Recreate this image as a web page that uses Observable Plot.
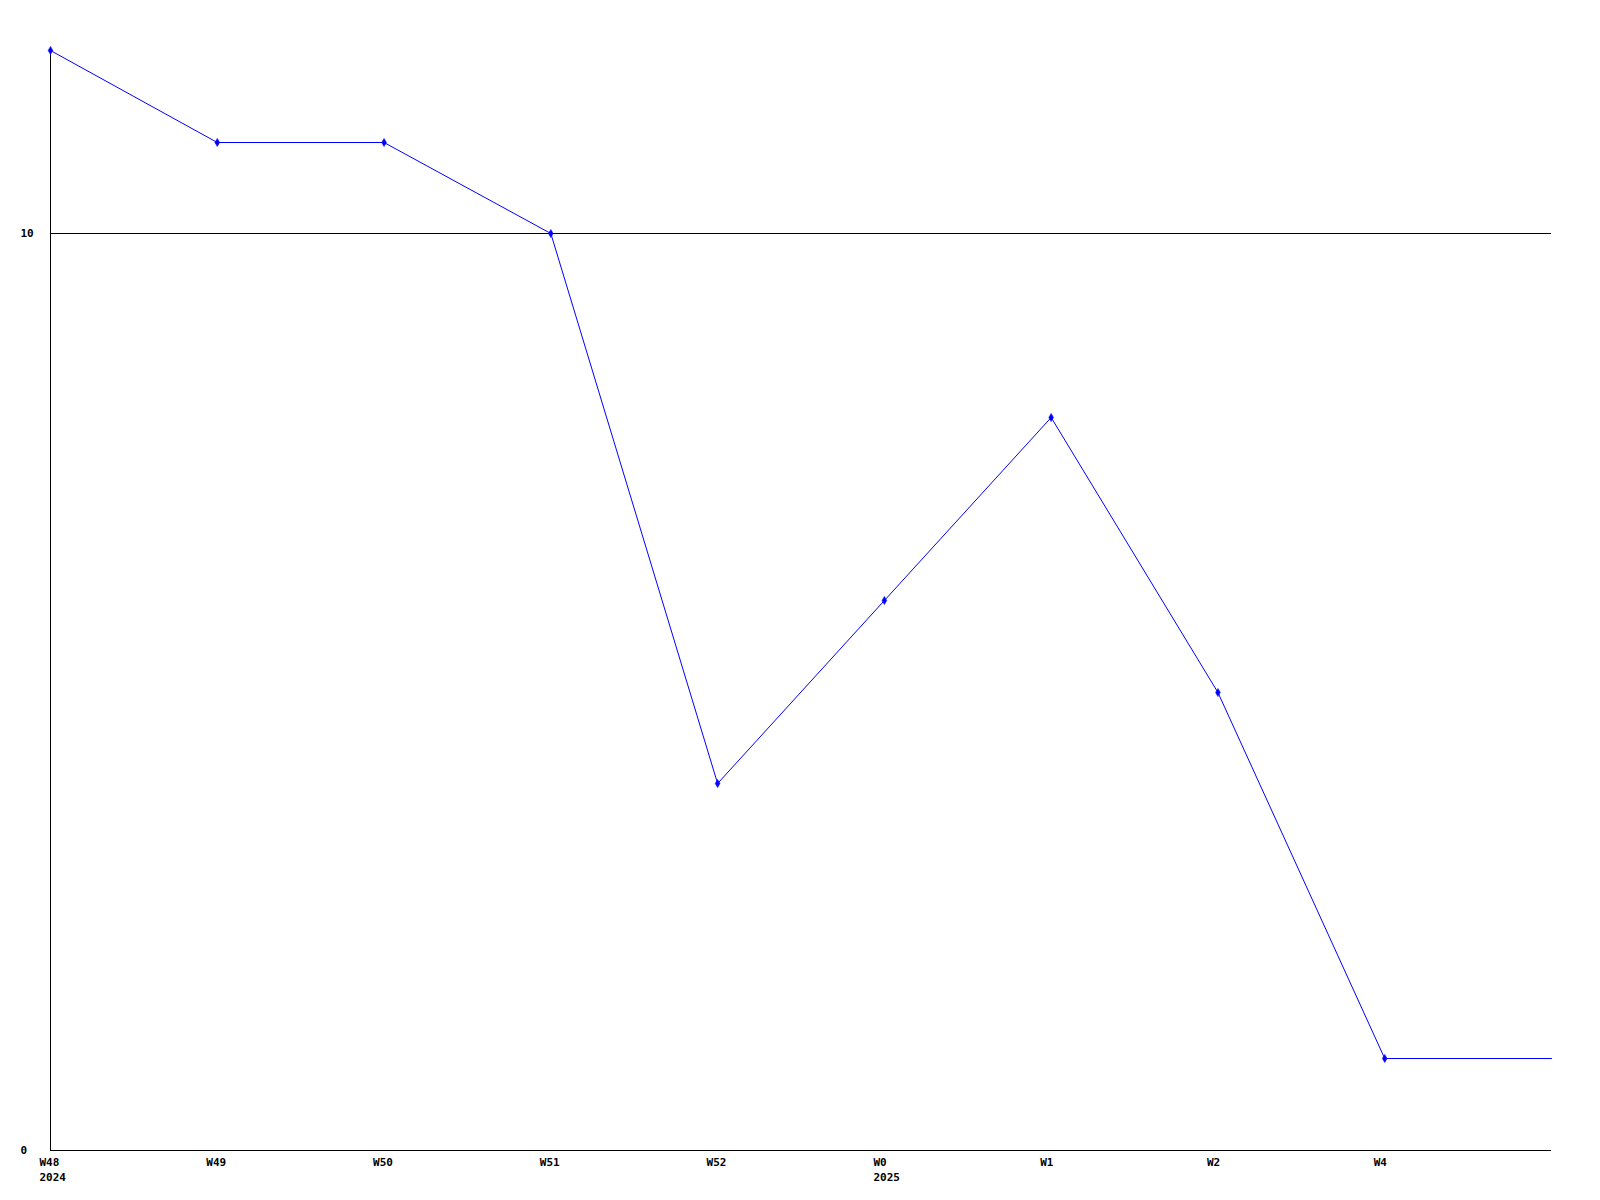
<!DOCTYPE html>
<html>
<head>
<meta charset="utf-8">
<script src="https://cdn.jsdelivr.net/npm/d3@7"></script>
<script src="https://cdn.jsdelivr.net/npm/@observablehq/plot@0.6"></script>
<style>
  html, body { margin: 0; padding: 0; background: #fff; }
</style>
</head>
<body>
<div id="chart"></div>
<script>
const weeks = ["W48", "W49", "W50", "W51", "W52", "W0", "W1", "W2", "W4"];
const years = ["2024", "", "", "", "", "2025", "", "", ""];
const values = [12, 11, 11, 10, 4, 6, 8, 5, 1];
const yTicks = [0, 10];
const xEnd = weeks.length; // line continues flat to the right edge of the frame

const points = weeks.map((w, i) => ({i, week: w, year: years[i], value: values[i]}));
const linePts = [...points, {i: xEnd, value: values[values.length - 1]}];
const labels = points.map(d => ({i: d.i, label: d.year ? d.week + "\n" + d.year : d.week}));

const font = "DejaVu Sans Mono";

const chart = Plot.plot({
  width: 1600,
  height: 1200,
  marginLeft: 50,
  marginRight: 49,
  marginTop: 50,
  marginBottom: 50,
  x: {domain: [0, xEnd], axis: null},
  y: {domain: [0, 12], axis: null, round: true},
  style: {fontFamily: font, background: "#fff"},
  marks: [
    Plot.ruleY([10], {stroke: "#000", strokeWidth: 1}),
    Plot.ruleY([0], {stroke: "#000", strokeWidth: 1}),
    Plot.ruleX([0], {y1: 0, y2: 12, stroke: "#000", strokeWidth: 1}),
    Plot.line(linePts, {x: "i", y: "value", stroke: "#0000ff", strokeWidth: 1}),
    Plot.dot(points, {x: "i", y: "value", symbol: "diamond", r: 2.5, fill: "#0000ff", stroke: "#0000ff", strokeWidth: 0.5}),
    Plot.text(labels, {
      x: "i", y: 0, text: "label",
      textAnchor: "start", lineAnchor: "top", dx: -11, dy: 5,
      lineHeight: 1.36, fontSize: 11, fontWeight: "bold", fill: "#000", fontFamily: font
    }),
    Plot.text(yTicks, {
      x: 0, y: d => d, text: d => String(d),
      textAnchor: "start", dx: -30, fontSize: 11, fontWeight: "bold", fill: "#000", fontFamily: font
    })
  ]
});
document.getElementById("chart").appendChild(chart);
</script>
</body>
</html>
